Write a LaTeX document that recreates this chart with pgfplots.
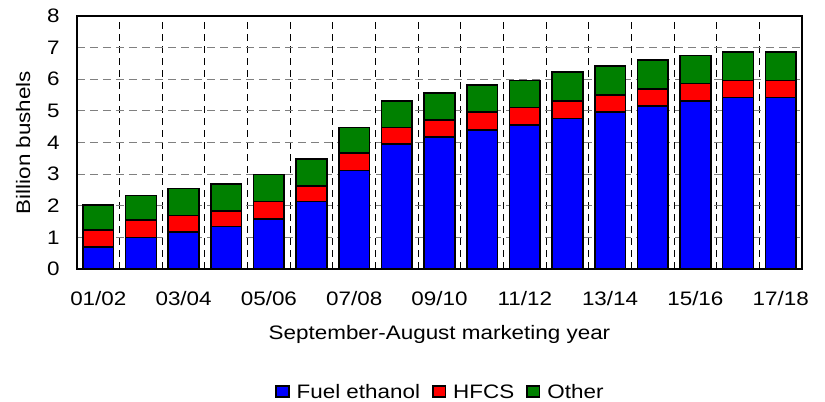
\documentclass[border=0pt]{standalone}
\usepackage{pgfplots}
\pgfplotsset{compat=1.18}
\usepackage{pgfplotstable}
\usepackage{fontspec}
\setmainfont{Liberation Sans}[FakeStretch=1.15]
\definecolor{cblue}{RGB}{0,0,255}
\definecolor{cred}{RGB}{255,0,0}
\definecolor{cgreen}{RGB}{0,128,0}
\pgfplotstableread{
x ethanol hfcs other
1 0.69 0.55 0.79
2 0.99 0.55 0.79
3 1.17 0.52 0.85
4 1.34 0.49 0.86
5 1.59 0.54 0.86
6 2.13 0.50 0.85
7 3.12 0.55 0.80
8 3.96 0.51 0.85
9 4.17 0.55 0.84
10 4.40 0.56 0.86
11 4.56 0.55 0.85
12 4.76 0.55 0.91
13 4.96 0.55 0.91
14 5.16 0.54 0.91
15 5.31 0.55 0.89
16 5.42 0.54 0.90
17 5.42 0.54 0.90
}\data
\begin{document}
\begin{tikzpicture}[font=\fontsize{9.75}{11.7}\selectfont]
\begin{axis}[
  name=ax,
  scale only axis,
  width=362.5pt, height=126.5pt,
  ybar stacked,
  bar width=0.72,
  xmin=0.5, xmax=17.5,
  ymin=0, ymax=8,
  ytick={0,1,...,8},
  xtick={1,3,...,17},
  xticklabels={01/02,03/04,05/06,07/08,09/10,11/12,13/14,15/16,17/18},
  minor xtick={1.5,2.5,...,16.5},
  major x tick style={draw=none},
  minor x tick style={draw=none},
  y tick style={draw=none},
  /pgf/number format/assume math mode=true,
  yticklabel style={anchor=east, inner sep=0pt, xshift=-8.5pt},
  xticklabel style={anchor=base, inner sep=0pt, yshift=-18.5pt},
  ymajorgrids,
  xminorgrids,
  major y grid style={gray, line width=0.6pt, dash pattern=on 4pt off 2.5pt},
  minor x grid style={black, line width=0.5pt, dash pattern=on 3.5pt off 2.5pt},
  axis line style={line width=1pt},
  ylabel={Billion bushels},
  ylabel style={at={(axis description cs:-0.0648,0.5)}, anchor=base, inner sep=0pt},
  xlabel={September-August marketing year},
  xlabel style={at={(axis description cs:0.5,0)}, anchor=base, inner sep=0pt, yshift=-35.5pt},
  legend style={at={(axis description cs:0.5,0)}, anchor=center, yshift=-61.25pt, draw=none, legend columns=-1,
    inner sep=0pt, nodes={inner sep=0pt, text height=7pt, text depth=0pt},
    /tikz/every odd column/.append style={column sep=3.5pt},
    /tikz/every even column/.append style={column sep=6pt}},
  legend image code/.code={\draw[#1] (0pt,-2.65pt) rectangle (6.3pt,2.65pt);},
  every axis plot/.append style={draw=black, line width=0.8pt},
]
\addplot[fill=cblue, draw=black] table[x=x, y=ethanol] {\data};
\addplot[fill=cred, draw=black] table[x=x, y=hfcs] {\data};
\addplot[fill=cgreen, draw=black] table[x=x, y=other] {\data};
\legend{Fuel ethanol, HFCS, Other}
\end{axis}
\path (ax.south west) ++(-38.5pt,-66.5pt) coordinate (bbA);
\path (ax.north east) ++(11.5pt,8pt) coordinate (bbB);
\path (bbA) rectangle (bbB);
\end{tikzpicture}
\end{document}
